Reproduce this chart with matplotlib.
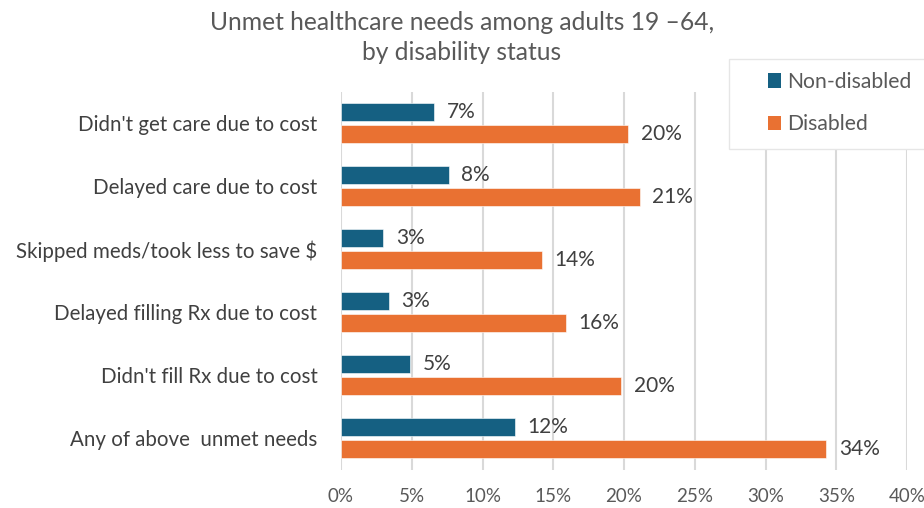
import matplotlib
matplotlib.use("Agg")
import matplotlib.pyplot as plt
from matplotlib.patches import Patch, Rectangle
import numpy as np

plt.rcParams['font.family'] = ['Lato', 'DejaVu Sans']

categories = ["Didn't get care due to cost",
              "Delayed care due to cost",
              "Skipped meds/took less to save $",
              "Delayed filling Rx due to cost",
              "Didn't fill Rx due to cost",
              "Any of above  unmet needs"]
non_disabled = [6.6, 7.6, 3.0, 3.4, 4.9, 12.3]
disabled = [20.3, 21.1, 14.2, 15.9, 19.8, 34.3]
series_names = ["Non-disabled", "Disabled"]
x_ticks = [0, 5, 10, 15, 20, 25, 30, 35, 40]

blue = '#156082'
orange = '#E97132'
grey_txt = '#595959'
label_txt = '#404040'

fig = plt.figure(figsize=(9.24, 5.08), dpi=100)
ax = fig.add_axes([341/924, 1-469.5/508, (907-341)/924, (469.5-91.5)/508])

y = np.arange(len(categories))
h = 0.30
off = 0.175
ax.barh(y - off, non_disabled, height=h, color=blue, edgecolor='white', linewidth=0.4, zorder=3)
ax.barh(y + off, disabled, height=h, color=orange, edgecolor='white', linewidth=0.4, zorder=3)

for yi, v in zip(y, non_disabled):
    ax.annotate(f"{v:.0f}%", (v, yi - off), xytext=(9, 0), textcoords='offset points',
                va='center', ha='left', fontsize=15, color=label_txt)
for yi, v in zip(y, disabled):
    ax.annotate(f"{v:.0f}%", (v, yi + off), xytext=(9, 0), textcoords='offset points',
                va='center', ha='left', fontsize=15, color=label_txt)

ax.set_xlim(0, 40)
ax.set_ylim(len(categories) - 0.5, -0.5)
ax.set_xticks(x_ticks)
ax.set_xticklabels([f"{t}%" for t in x_ticks])
ax.set_yticks(y)
ax.set_yticklabels(categories)
ax.tick_params(axis='x', length=0, pad=13, labelsize=13.5, labelcolor=grey_txt)
ax.tick_params(axis='y', length=0, pad=17, labelsize=14.8, labelcolor=label_txt)
ax.grid(axis='x', color='#d9d9d9', linewidth=1.5, zorder=0)
ax.set_axisbelow(True)
for s in ax.spines.values():
    s.set_visible(False)

fig.text(0.5, 1-22/508, "Unmet healthcare needs among adults 19 \u201364,", ha='center', va='center',
         fontsize=17.7, color=grey_txt)
fig.text(0.5, 1-53/508, "by disability status", ha='center', va='center',
         fontsize=17.7, color=grey_txt)

# legend box sits on top of the gridlines
box = Rectangle((729/924, 1-149/508), (924-729)/924 + 0.01, 90/508, transform=fig.transFigure,
                facecolor='white', edgecolor='#e6e6e6', linewidth=1, zorder=5)
fig.patches.append(box)
handles = [Patch(facecolor=blue), Patch(facecolor=orange)]
leg = fig.legend(handles, series_names, loc='center left',
                 bbox_to_anchor=(757/924, 1-103/508), frameon=False,
                 fontsize=15.2, labelcolor=grey_txt, handlelength=0.65, handleheight=0.65,
                 handletextpad=0.3, labelspacing=1.05, borderpad=0)
leg.set_zorder(6)

fig.savefig('out.png', dpi=100, facecolor='white')
